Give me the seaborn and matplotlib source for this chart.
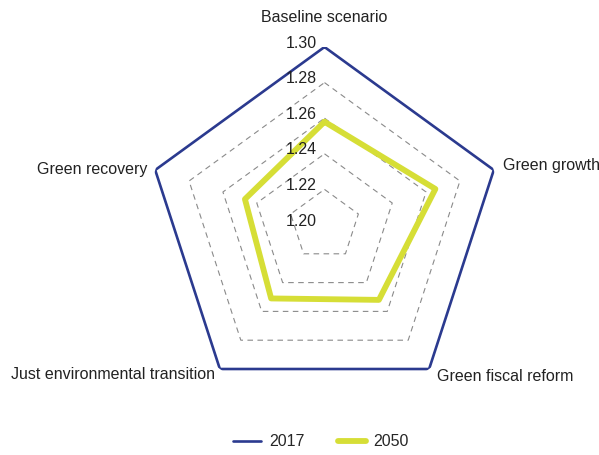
import numpy as np
import pandas as pd
import matplotlib
matplotlib.use("Agg")
import matplotlib.pyplot as plt
from matplotlib.lines import Line2D
import seaborn as sns

categories = ["Baseline scenario", "Green growth", "Green fiscal reform",
              "Just environmental transition", "Green recovery"]
years = ["2017", "2050"]
values_2017 = [1.30, 1.30, 1.30, 1.30, 1.30]
values_2050 = [1.258, 1.2655, 1.252, 1.251, 1.247]
tick_values = [1.20, 1.22, 1.24, 1.26, 1.28, 1.30]
tick_labels = ["1.20", "1.22", "1.24", "1.26", "1.28", "1.30"]

colors = {"2017": "#2B3A8F", "2050": "#D6DE36"}
widths = {"2017": 1.9, "2050": 4.2}

sns.set_theme(style="white")
plt.rcParams["font.family"] = ["Liberation Sans", "DejaVu Sans"]

n = len(categories)
theta = np.linspace(0, 2 * np.pi, n, endpoint=False)
theta_closed = np.append(theta, theta[0] + 2 * np.pi)

rows = []
for year, vals in zip(years, [values_2017, values_2050]):
    vc = list(vals) + [vals[0]]
    for t, v in zip(theta_closed, vc):
        rows.append({"year": year, "theta": t, "value": v})
df = pd.DataFrame(rows)

fig = plt.figure(figsize=(5.99, 4.55), dpi=100)
ax = fig.add_axes([146.5 / 599, 52 / 455, 356 / 599, 356 / 455], projection="polar")
ax.set_theta_zero_location("N")
ax.set_theta_direction(-1)

# dashed polygon grid
for v in tick_values[1:]:
    ax.plot(theta_closed, [v] * len(theta_closed), color="#8A8A8A", lw=0.8,
            ls=(0, (5, 4)), zorder=1)

sns.lineplot(data=df, x="theta", y="value", hue="year", size="year",
             sizes=widths, palette=colors, sort=False, estimator=None,
             legend=False, ax=ax, zorder=3)

ax.set_ylim(1.20, 1.30)
ax.grid(False)
ax.spines["polar"].set_visible(False)
ax.set_xticks([])
ax.set_yticks([])
ax.set_xlabel("")
ax.set_ylabel("")

fs = 11.5
# radial tick labels
for v, lab in zip(tick_values, tick_labels):
    ax.annotate(lab, xy=(0, v), xytext=(-8, 4), textcoords="offset pixels",
                ha="right", va="center", fontsize=fs, color="#222222",
                annotation_clip=False)

# category labels
offsets = [(0, 30, "center"), (9, 4, "left"), (8, -7, "left"),
           (-5, -5, "right"), (-8, 0, "right")]
for t, cat, (dx, dy, ha) in zip(theta, categories, offsets):
    ax.annotate(cat, xy=(t, 1.30), xytext=(dx, dy), textcoords="offset pixels",
                ha=ha, va="center", fontsize=fs, color="#222222",
                annotation_clip=False)

handles = [Line2D([], [], color=colors[y], lw=widths[y]) for y in years]
fig.legend(handles, years, loc="center", bbox_to_anchor=(321 / 599, 1 - 442 / 455),
           ncol=2, frameon=False, handlelength=1.75, handletextpad=0.5,
           columnspacing=2.1, fontsize=fs)

fig.savefig("out.png", dpi=100)
